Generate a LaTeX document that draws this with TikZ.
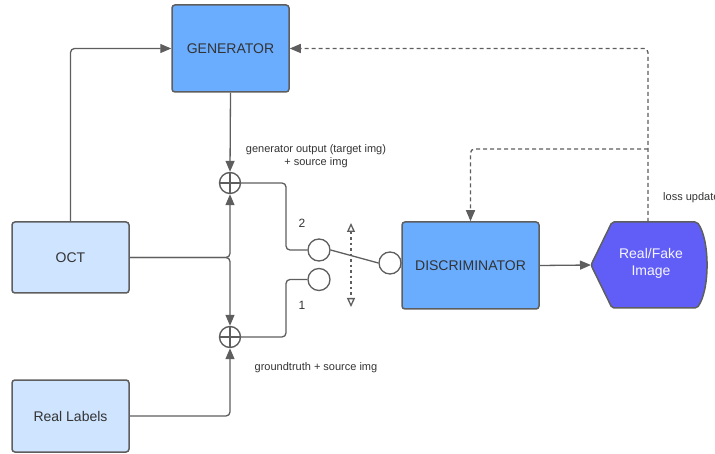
\documentclass[tikz,border=0pt]{standalone}
\usepackage{fontspec}
\setmainfont{Liberation Sans}
\usetikzlibrary{arrows.meta}

\definecolor{edge}{RGB}{94,94,94}
\definecolor{txt}{RGB}{51,51,51}
\definecolor{midblue}{RGB}{106,173,255}
\definecolor{paleblue}{RGB}{207,228,255}
\definecolor{violet}{RGB}{97,94,247}

\tikzset{
  box/.style={draw=edge, line width=1.5pt, rounded corners=3pt, text=txt,
    font=\fontsize{14}{16}\selectfont, inner sep=0pt},
  genbox/.style={box, fill=midblue},
  inbox/.style={box, fill=paleblue},
  wire/.style={draw=edge, line width=1.3pt, rounded corners=4pt},
  dashwire/.style={wire, dash pattern=on 4pt off 3pt},
  arr/.style={-{Triangle[length=11pt,width=9pt]}},
  sum/.style={circle, draw=edge, line width=1.4pt, minimum size=21pt, inner sep=0pt,
    path picture={\draw[edge, line width=1.4pt]
      (path picture bounding box.north) -- (path picture bounding box.south)
      (path picture bounding box.west) -- (path picture bounding box.east);}},
  contact/.style={circle, draw=edge, line width=1.3pt, fill=white, minimum size=22pt, inner sep=0pt},
  lbl/.style={text=txt, font=\fontsize{11}{13}\selectfont, inner sep=0pt, align=center},
}

\begin{document}
\begin{tikzpicture}[x=1pt, y=-1pt]
\useasboundingbox (0,0) rectangle (715,454);

% main blocks
\node[genbox, minimum width=117pt, minimum height=87pt] (gen) at (230.5,48.5) {GENERATOR};
\node[inbox, minimum width=117pt, minimum height=71pt] (oct) at (70.5,257.5) {OCT};
\node[inbox, minimum width=117pt, minimum height=72pt] (real) at (70.5,416) {Real Labels};
\node[genbox, minimum width=137pt, minimum height=87pt] (disc) at (470.5,265.5) {DISCRIMINATOR};

% output block: pointed on the left, bulged on the right
\coordinate (rf-tip) at (591,265);
\coordinate (rf-top) at (648,222);
\draw[draw=edge, line width=1.5pt, fill=violet, rounded corners=2pt]
  (rf-tip) -- (612,222) -- (697,222)
  .. controls (710,240) and (710,290) .. (697,308)
  -- (612,308) -- cycle;
\node[text=white!94!violet, font=\fontsize{14}{17}\selectfont, align=center, inner sep=0pt]
  (rf) at (651,263) {Real/Fake\\Image};

% summing junctions
\node[sum] (sum1) at (230,183) {};
\node[sum] (sum2) at (230,337) {};

% switch contacts
\node[contact] (c2) at (319,250) {};
\node[contact] (c1) at (319,279.5) {};
\node[contact] (c3) at (390,263) {};
\coordinate (bend) at (286,0);
\coordinate (sw-top) at (351,223);
\coordinate (sw-bot) at (351,307);

% solid connectors
\draw[wire, arr] (oct.north) |- (gen.west);
\draw[wire, arr] (gen.south) -- (sum1.north);
\draw[wire, arr] (oct.east) -| (sum1.south);
\draw[wire, arr] (oct.east) -| (sum2.north);
\draw[wire, arr] (real.east) -| (sum2.south);
\draw[wire] (sum1.east) -| (bend |- c2.west) -- (c2.west);
\draw[wire] (sum2.east) -| (bend |- c1.west) -- (c1.west);
\draw[wire] (c2.east) -- (c3.west);
\draw[wire, arr] (disc.east) -- (rf-tip);

% switch throw indicator
\draw[draw=edge, line width=1.3pt, dash pattern=on 2.5pt off 3pt,
  {Triangle[open, length=9pt, width=8pt]}-{Triangle[open, length=9pt, width=8pt]}]
  (sw-top) -- (sw-bot);

% feedback (loss) connectors
\coordinate (lossjoin) at (648,149);
\draw[dashwire, arr] (rf-top) |- (gen.east);
\draw[dashwire, arr] (lossjoin) -| (disc.north);

% labels
\node[lbl] (l-gen) at (316,156) {generator output (target img)\\+ source img};
\node[lbl] (l-gt) at (316,368) {groundtruth + source img};
\node[lbl, anchor=west] (l-loss) at (663,198) {loss update};
\node[lbl, font=\fontsize{12}{14}\selectfont] (n2) at (302,223) {2};
\node[lbl, font=\fontsize{12}{14}\selectfont] (n1) at (302,305) {1};
\end{tikzpicture}
\end{document}
